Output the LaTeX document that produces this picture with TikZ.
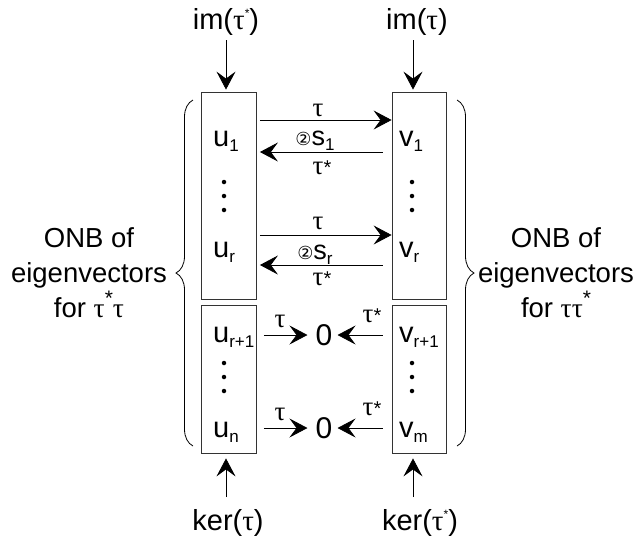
\documentclass[tikz,border=0pt]{standalone}
\usepackage{fontspec}
\setmainfont{Liberation Sans}
\newfontfamily\grkfont{Liberation Serif}
\newfontfamily\symfont{DejaVu Sans}
\usetikzlibrary{arrows.meta,decorations.pathreplacing}
\newcommand\tu{{\grkfont τ}}
\newcommand\lo[1]{\raisebox{-5pt}{\fontsize{17}{17}\selectfont #1}}
\newcommand\hi[1]{\raisebox{12pt}{\fontsize{21}{21}\selectfont #1}}
\newcommand\st[1]{\raisebox{0pt}{\fontsize{20}{20}\selectfont #1}}
\newcommand\tinystar[1]{\raisebox{12pt}{\fontsize{12}{12}\selectfont #1}}
\newcommand\circtwo{{\symfont\fontsize{18}{18}\selectfont ②}}
\begin{document}
\begin{tikzpicture}[x=1pt,y=-1pt,
  box/.style={draw=black!80, line width=0.8pt, inner sep=0pt},
  arr/.style={-{Stealth[length=18pt,width=19pt,inset=7pt]}, line width=0.8pt},
  main/.style={font=\fontsize{29}{29}\selectfont, inner sep=0pt},
  zero/.style={font=\fontsize{30}{30}\selectfont, inner sep=0pt},
  lab/.style={font=\fontsize{27}{27}\selectfont, inner sep=0pt},
  side/.style={font=\fontsize{27.5}{35}\selectfont, align=center, inner sep=0pt},
  brc/.style={decorate, decoration={brace, amplitude=17pt}, line width=0.8pt},
  dot/.style={circle, fill, inner sep=0pt, minimum size=4.5pt}]
\useasboundingbox (0,0) rectangle (634,539);

% boxes
\node[box, minimum width=55pt, minimum height=207pt] (LU) at (229,195.5) {};
\node[box, minimum width=55pt, minimum height=148pt] (LL) at (229,379) {};
\node[box, minimum width=54pt, minimum height=207pt] (RU) at (419,195.5) {};
\node[box, minimum width=54pt, minimum height=148pt] (RL) at (419,379) {};

% box contents
\node[main, anchor=base west] (u1) at (213,146) {u\lo{1}};
\node[main, anchor=base west] (ur) at (213,257) {u\lo{r}};
\node[main, anchor=base west] (ur1) at (213,342) {u\lo{r+1}};
\node[main, anchor=base west] (un) at (213,437) {u\lo{n}};
\node[main, anchor=base west] (v1) at (399,146) {v\lo{1}};
\node[main, anchor=base west] (vr) at (399,257) {v\lo{r}};
\node[main, anchor=base west] (vr1) at (399,342) {v\lo{r+1}};
\node[main, anchor=base west] (vm) at (399,437) {v\lo{m}};

\foreach \y [count=\i] in {182,196,210} {
  \node[dot] (ldA\i) at (224,\y) {};
  \node[dot] (rdA\i) at (412,\y) {};
}
\foreach \y [count=\i] in {363,377,391} {
  \node[dot] (ldB\i) at (224,\y) {};
  \node[dot] (rdB\i) at (412,\y) {};
}

% top and bottom labels
\node[main] (im1) at (226,22) {im(\tu\tinystar{*})};
\node[main] (im2) at (417,22) {im(\tu)};
\node[main] (k1) at (228,523) {ker(\tu)};
\node[main] (k2) at (420,523) {ker(\tu\tinystar{*})};
\draw[arr, shorten >=2pt] ([yshift=-18pt]im1.center -| 226,0) -- (LU.north -| 226,0);
\draw[arr, shorten >=2pt] ([yshift=-18pt]im2.center -| 413,0) -- (RU.north -| 413,0);
\draw[arr, shorten >=5pt] ([yshift=26pt]k1.center -| 226,0) -- (LL.south -| 226,0);
\draw[arr, shorten >=5pt] ([yshift=26pt]k2.center -| 413,0) -- (RL.south -| 413,0);

% upper arrows
\draw[arr, shorten <=3pt, shorten >=0pt] (LU.east |- 0,120) -- (RU.west |- 0,120);
\draw[arr, shorten <=9pt, shorten >=3pt] (RU.west |- 0,152) -- (LU.east |- 0,152);
\draw[arr, shorten <=3pt, shorten >=0pt] (LU.east |- 0,235) -- (RU.west |- 0,235);
\draw[arr, shorten <=9pt, shorten >=3pt] (RU.west |- 0,265) -- (LU.east |- 0,265);
\node[lab, anchor=base] (t1) at (318,116) {\tu};
\node[lab, anchor=base] (s1) at (315,145) {\circtwo s\lo{1}};
\node[lab, anchor=base] (ts1) at (322,174) {\tu\st{*}};
\node[lab, anchor=base] (t2) at (318,229) {\tu};
\node[lab, anchor=base] (s2) at (315,259) {\circtwo s\lo{r}};
\node[lab, anchor=base] (ts2) at (322,285) {\tu\st{*}};

% lower arrows
\node[zero] (z1) at (324,335) {0};
\node[zero] (z2) at (324,428) {0};
\draw[arr, shorten <=7pt, shorten >=8pt] (LL.east |- z1) -- (z1.west);
\draw[arr, shorten <=9pt, shorten >=5pt] (RL.west |- z1) -- (z1.east);
\draw[arr, shorten <=7pt, shorten >=8pt] (LL.east |- z2) -- (z2.west);
\draw[arr, shorten <=9pt, shorten >=5pt] (RL.west |- z2) -- (z2.east);
\node[lab, anchor=base] (tl1) at (280,327) {\tu};
\node[lab, anchor=base] (tsl1) at (372,322) {\tu\st{*}};
\node[lab, anchor=base] (tl2) at (280,420) {\tu};
\node[lab, anchor=base] (tsl2) at (372,415) {\tu\st{*}};

% braces and side texts
\draw[brc] (193,446) -- (193,100);
\draw[brc] (457,100) -- (457,446);
\node[side] (onbL) at (89,273) {ONB of\\eigenvectors\\for \tu\hi{*}\tu};
\node[side] (onbR) at (556,273) {ONB of\\eigenvectors\\for \tu\tu\hi{*}};
\end{tikzpicture}
\end{document}
